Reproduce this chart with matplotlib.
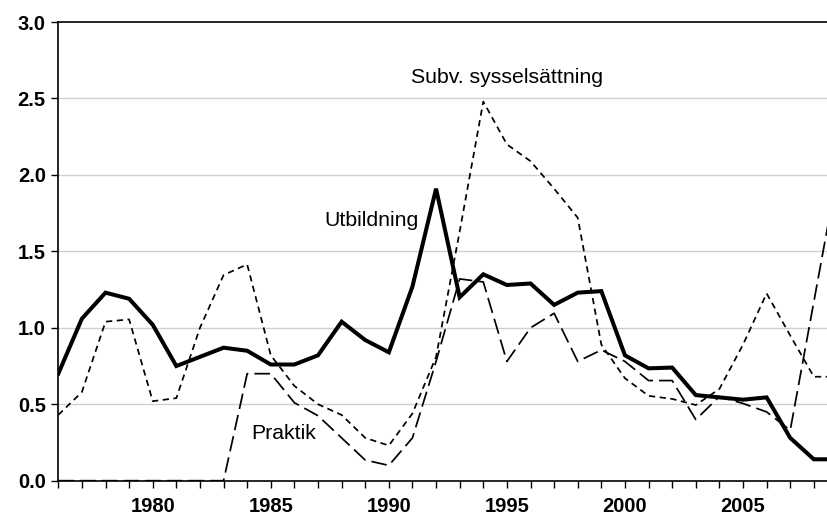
import numpy as np
import matplotlib.pyplot as plt
from matplotlib.ticker import MultipleLocator

years = list(range(1976, 2010))

utbildning = [0.70, 1.06, 1.23, 1.19, 1.02, 0.75, 0.81, 0.87, 0.85, 0.76,
              0.76, 0.82, 1.04, 0.92, 0.84, 1.27, 1.91, 1.20, 1.35, 1.28,
              1.29, 1.15, 1.23, 1.24, 0.82, 0.735, 0.74, 0.56, 0.545, 0.53,
              0.545, 0.28, 0.14, 0.14]

subv = [0.43, 0.58, 1.04, 1.055, 0.52, 0.54, 1.00, 1.345, 1.415, 0.82,
        0.62, 0.50, 0.43, 0.28, 0.23, 0.44, 0.81, 1.63, 2.48, 2.20,
        2.09, 1.91, 1.72, 0.89, 0.67, 0.555, 0.535, 0.495, 0.60, 0.89,
        1.225, 0.95, 0.68, 0.68]

praktik = [0.0, 0.0, 0.0, 0.0, 0.0, 0.0, 0.0, 0.0, 0.70, 0.70,
           0.51, 0.425, 0.28, 0.135, 0.10, 0.28, 0.78, 1.32, 1.30, 0.78,
           1.00, 1.095, 0.78, 0.855, 0.78, 0.655, 0.655, 0.40, 0.55, 0.505,
           0.45, 0.33, 1.17, 2.01]

plt.rcParams['font.family'] = ['Liberation Sans', 'DejaVu Sans']

fig = plt.figure(figsize=(8.28, 5.15), dpi=100)
ax = fig.add_axes([0.0704, 0.0666, 0.9296, 0.8906])

ax.plot(years, utbildning, color='black', linewidth=2.9, solid_joinstyle='miter')
ax.plot(years, subv, color='black', linewidth=1.25, dashes=(3.6, 2.6))
ax.plot(years, praktik, color='black', linewidth=1.25, dashes=(9, 3.5))

ax.set_xlim(1976, 2008.6)
ax.set_ylim(0, 3.0)

ax.yaxis.set_major_locator(MultipleLocator(0.5))
ax.xaxis.set_major_locator(MultipleLocator(5))
ax.xaxis.set_minor_locator(MultipleLocator(1))
ax.yaxis.set_major_formatter(plt.FormatStrFormatter('%.1f'))

for y in [0.5, 1.0, 1.5, 2.0, 2.5]:
    ax.axhline(y, color='#d0d0d0', linewidth=1.0, zorder=0)

ax.spines['right'].set_visible(False)
for s in ['left', 'top', 'bottom']:
    ax.spines[s].set_linewidth(1.2)
    ax.spines[s].set_color('black')

ax.tick_params(axis='x', which='both', direction='out', length=5, width=1, pad=6.5)
ax.tick_params(axis='y', which='major', direction='out', length=5, width=1, pad=4)
for lbl in ax.get_xticklabels() + ax.get_yticklabels():
    lbl.set_fontweight('bold')
    lbl.set_fontsize(14.5)

ax.text(1995.0, 2.64, 'Subv. sysselsättning', fontsize=15.3, ha='center', va='center')
ax.text(1989.28, 1.705, 'Utbildning', fontsize=15.3, ha='center', va='center')
ax.text(1985.53, 0.31, 'Praktik', fontsize=15.3, ha='center', va='center')

fig.savefig('out.png', dpi=100)
